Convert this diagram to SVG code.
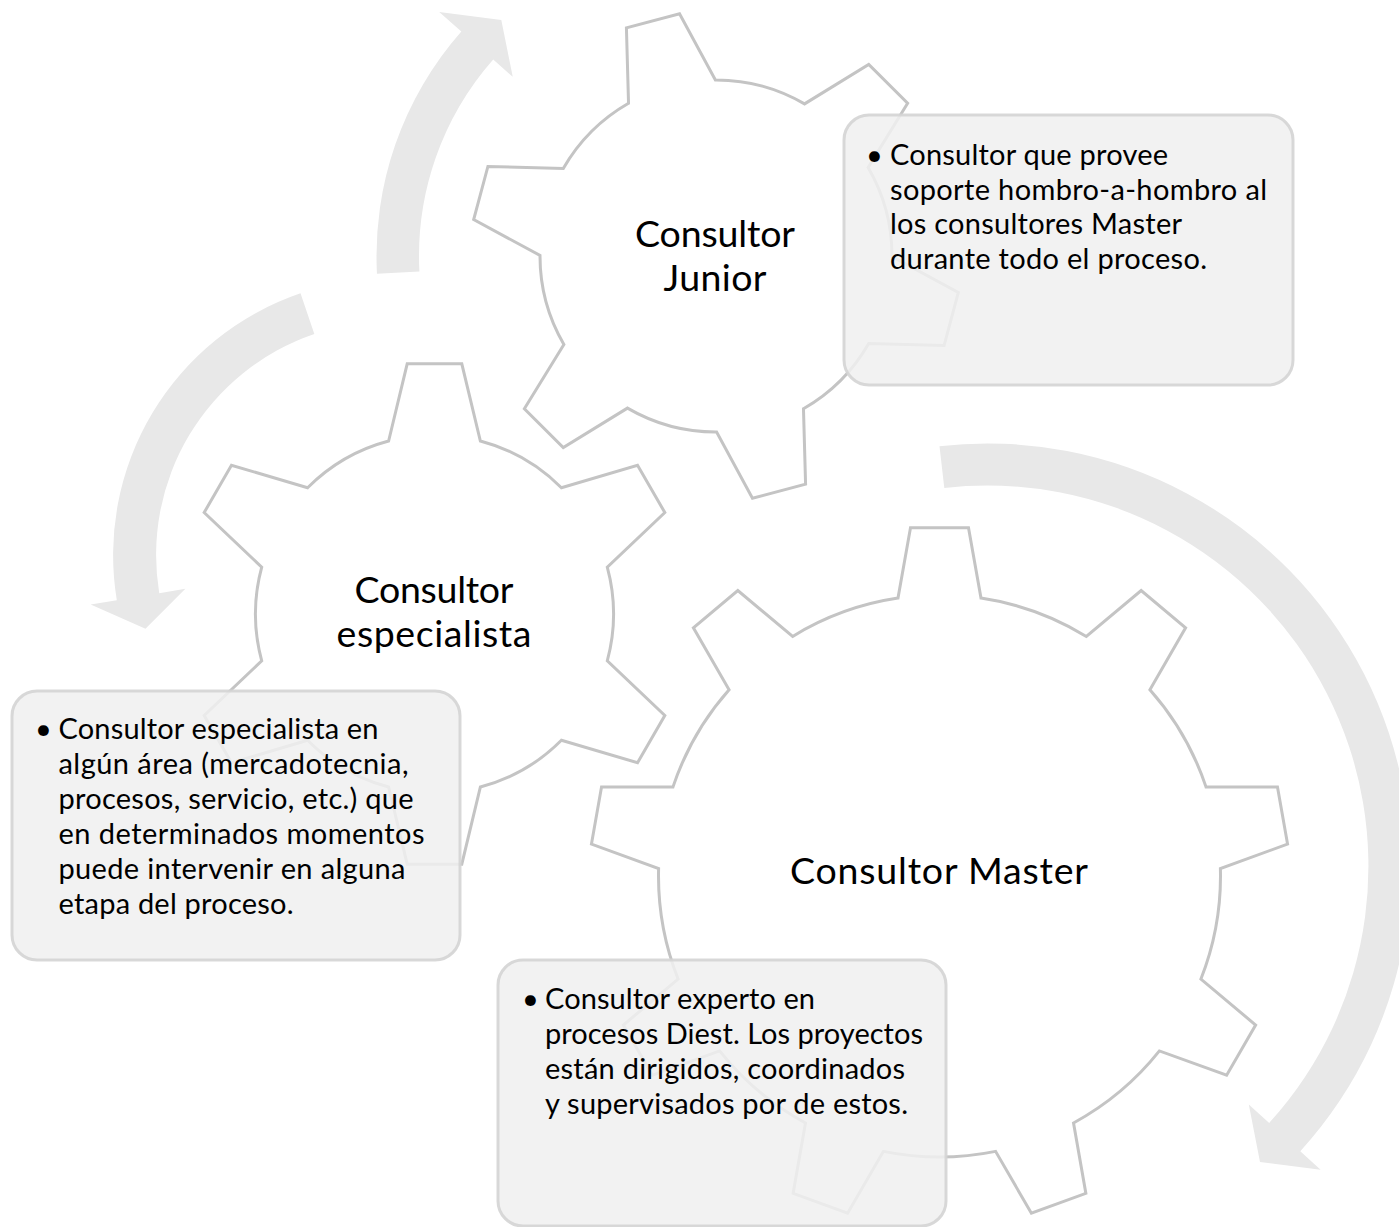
<svg xmlns="http://www.w3.org/2000/svg" width="1399" height="1227" viewBox="0 0 1399 1227">
<style>
.arrow{fill:#e8e8e8;stroke:none}
.gear{fill:#ffffff;stroke:#c4c4c4;stroke-width:3;stroke-linejoin:miter}
.box{fill:#f0f0f0;fill-opacity:0.86;stroke:#d4d4d4;stroke-opacity:0.9;stroke-width:3}
.lbl{font-family:Lato,"Open Sans","Liberation Sans",sans-serif;font-size:37.5px;fill:#000;text-anchor:middle}
.txt{font-family:Lato,"Open Sans","Liberation Sans",sans-serif;font-size:29px;fill:#000}
</style>
<rect x="0" y="0" width="1399" height="1227" fill="#ffffff"/>
<g id="connectors">
<path class="arrow" d="M 376.97 273.77 A 339.5 339.5 0 0 1 461.34 31.49 L 439.2 12.0 L 501.3 20.1 L 512.72 76.79 L 493.22 59.59 A 297 297 0 0 0 419.41 271.54 Z"/>
<path class="arrow" d="M 300.5 293.3 A 276.5 276.5 0 0 0 116.81 600.16 L 90.67 604.49 L 145.48 628.7 L 185.38 588.81 L 159.24 593.14 A 233.5 233.5 0 0 1 314.34 333.97 Z"/>
<path class="arrow" d="M 939.5 446.2 A 423 423 0 0 1 1300.3 1151.2 L 1320.6 1169.7 L 1260 1161.9 L 1248.8 1104.4 L 1269.2 1122.9 A 381 381 0 0 0 944.3 487.9 Z"/>
</g>
<g id="gear-master">
<path class="gear" d="M 898.0 598.1 L 910.5 527.7 L 968.5 527.7 L 981.0 598.1 A 281 281 0 0 1 1086.35 636.43 L 1141.16 590.55 L 1185.6 627.83 L 1149.91 689.74 A 281 281 0 0 1 1205.99 786.89 L 1277.47 786.96 L 1287.55 844.08 L 1220.4 868.6 A 281 281 0 0 1 1200.93 979.03 L 1255.64 1025.04 L 1226.64 1075.26 L 1159.41 1050.93 A 281 281 0 0 1 1073.53 1122.97 L 1085.88 1193.37 L 1031.38 1213.21 L 995.57 1151.35 A 281 281 0 0 1 883.43 1151.35 L 847.62 1213.21 L 793.12 1193.37 L 805.47 1122.97 A 281 281 0 0 1 719.59 1050.93 L 652.36 1075.26 L 623.36 1025.04 L 678.07 979.03 A 281 281 0 0 1 658.6 868.6 L 591.45 844.08 L 601.53 786.96 L 673.01 786.89 A 281 281 0 0 1 729.09 689.74 L 693.4 627.83 L 737.84 590.55 L 792.65 636.43 A 281 281 0 0 1 898.0 598.1 Z"/>
<text class="lbl" x="939" y="884" textLength="298">Consultor Master</text>
</g>
<g id="gear-especialista">
<path class="gear" d="M 388.62 440.98 L 407.2 363.8 L 461.8 363.8 L 480.38 440.98 A 179 179 0 0 1 561.4 487.76 L 637.53 465.26 L 664.83 512.54 L 607.28 567.22 A 179 179 0 0 1 607.28 660.78 L 664.83 715.46 L 637.53 762.74 L 561.4 740.24 A 179 179 0 0 1 480.38 787.02 L 461.8 864.2 L 407.2 864.2 L 388.62 787.02 A 179 179 0 0 1 307.6 740.24 L 231.47 762.74 L 204.17 715.46 L 261.72 660.78 A 179 179 0 0 1 261.72 567.22 L 204.17 512.54 L 231.47 465.26 L 307.6 487.76 A 179 179 0 0 1 388.62 440.98 Z"/>
<text class="lbl" x="434" y="603" textLength="159">Consultor</text>
<text class="lbl" x="434" y="646.5" textLength="195">especialista</text>
</g>
<g id="gear-junior">
<path class="gear" d="M 628.53 103.27 L 626.42 27.92 L 679.54 13.68 L 715.39 80.0 A 176 176 0 0 1 804.53 103.89 L 868.73 64.37 L 907.63 103.27 L 868.11 167.47 A 176 176 0 0 1 892.0 256.61 L 958.32 292.46 L 944.08 345.58 L 868.73 343.47 A 176 176 0 0 1 803.47 408.73 L 805.58 484.08 L 752.46 498.32 L 716.61 432.0 A 176 176 0 0 1 627.47 408.11 L 563.27 447.63 L 524.37 408.73 L 563.89 344.53 A 176 176 0 0 1 540.0 255.39 L 473.68 219.54 L 487.92 166.42 L 563.27 168.53 A 176 176 0 0 1 628.53 103.27 Z"/>
<text class="lbl" x="715" y="246.5" textLength="160">Consultor</text>
<text class="lbl" x="715" y="290.5" textLength="103">Junior</text>
</g>
<g id="box-junior">
<rect class="box" x="844" y="115" width="449" height="270" rx="25" ry="25"/>
<text class="txt" x="866" y="165">•</text>
<text class="txt" x="890" y="165" textLength="278">Consultor que provee</text>
<text class="txt" x="890" y="199.5" textLength="377">soporte hombro-a-hombro al</text>
<text class="txt" x="890" y="234" textLength="292">los consultores Master</text>
<text class="txt" x="890" y="268.5" textLength="317">durante todo el proceso.</text>
</g>
<g id="box-especialista">
<rect class="box" x="12" y="691" width="448" height="269" rx="25" ry="25"/>
<text class="txt" x="35" y="738.5">•</text>
<text class="txt" x="58.5" y="738.5" textLength="320">Consultor especialista en</text>
<text class="txt" x="58.5" y="773.5" textLength="350">algún área (mercadotecnia,</text>
<text class="txt" x="58.5" y="808.5" textLength="355">procesos, servicio, etc.) que</text>
<text class="txt" x="58.5" y="843.5" textLength="366">en determinados momentos</text>
<text class="txt" x="58.5" y="878.5" textLength="347">puede intervenir en alguna</text>
<text class="txt" x="58.5" y="913.5" textLength="235">etapa del proceso.</text>
</g>
<g id="box-master">
<rect class="box" x="498" y="960" width="448" height="266" rx="25" ry="25"/>
<text class="txt" x="522" y="1008.5">•</text>
<text class="txt" x="545" y="1008.5" textLength="270">Consultor experto en</text>
<text class="txt" x="545" y="1043.5" textLength="378">procesos Diest. Los proyectos</text>
<text class="txt" x="545" y="1078.5" textLength="360">están dirigidos, coordinados</text>
<text class="txt" x="545" y="1113.5" textLength="363">y supervisados por de estos.</text>
</g>
</svg>
